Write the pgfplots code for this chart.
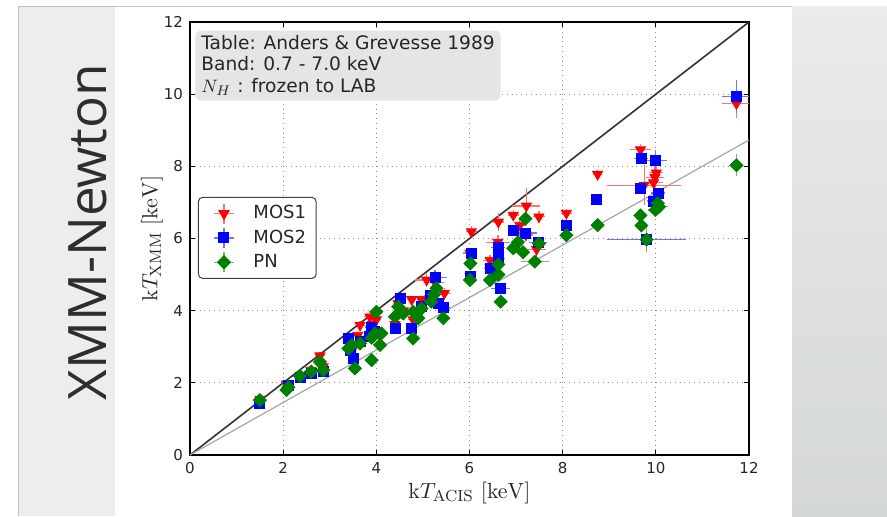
\documentclass[border=0pt]{standalone}
\usepackage{pgfplots}
\pgfplotsset{compat=1.18}
\usepackage{pgfplotstable}
\usepackage[no-math]{fontspec}
\setmainfont{DejaVu Sans}
\newfontfamily\slidefont{Open Sans}

\definecolor{mplred}{RGB}{255,0,0}
\definecolor{mplblue}{RGB}{0,0,255}
\definecolor{mplgreen}{RGB}{0,128,0}
\definecolor{panel}{RGB}{236,237,237}
\definecolor{boxgray}{RGB}{229,229,229}

% MOS1
\pgfplotstableread{
x y ex ey
1.50 1.55 0.10 0.10
2.07 1.97 0.10 0.08
2.38 2.20 0.08 0.08
2.60 2.35 0.08 0.08
2.79 2.75 0.10 0.10
2.86 2.45 0.10 0.10
3.40 3.25 0.10 0.10
3.48 2.90 0.10 0.10
3.65 3.60 0.10 0.12
3.60 3.32 0.10 0.10
3.86 3.83 0.12 0.15
3.92 3.62 0.12 0.12
4.00 3.75 0.10 0.10
3.97 3.45 0.10 0.10
4.08 3.30 0.10 0.10
4.40 3.62 0.10 0.10
4.47 4.20 0.12 0.12
4.58 4.00 0.10 0.10
4.76 4.31 0.10 0.10
4.97 4.31 0.10 0.10
4.79 3.75 0.10 0.10
5.08 4.85 0.25 0.20
5.18 4.40 0.15 0.15
5.26 4.78 0.20 0.20
5.46 4.48 0.15 0.15
5.33 4.20 0.15 0.15
6.01 4.95 0.10 0.10
6.04 6.19 0.12 0.15
6.01 5.60 0.15 0.15
6.44 5.40 0.15 0.15
6.44 5.20 0.12 0.12
6.62 6.46 0.12 0.25
6.61 5.90 0.25 0.20
6.94 6.65 0.12 0.15
7.08 6.37 0.15 0.15
7.22 6.90 0.30 0.50
7.49 6.60 0.12 0.15
7.44 5.70 0.20 0.20
7.21 6.10 0.15 0.15
8.08 6.70 0.12 0.12
8.75 7.78 0.10 0.12
9.67 8.46 0.22 0.15
9.75 7.48 0.80 0.55
9.98 7.70 0.20 0.30
10.01 7.82 0.15 0.20
9.95 7.55 0.20 0.30
11.73 9.74 0.30 0.40
}\mosone

% MOS2
\pgfplotstableread{
x y ex ey
1.50 1.43 0.10 0.08
2.11 1.94 0.10 0.08
2.36 2.15 0.08 0.08
2.60 2.25 0.08 0.08
2.86 2.33 0.10 0.08
3.40 3.22 0.12 0.10
3.50 2.68 0.10 0.10
3.45 2.90 0.10 0.10
3.65 3.15 0.10 0.10
3.90 3.55 0.15 0.12
3.86 3.28 0.10 0.10
3.95 3.42 0.12 0.10
4.40 3.51 0.10 0.10
4.51 4.34 0.12 0.12
4.76 3.51 0.10 0.10
4.97 4.11 0.12 0.12
5.15 4.43 0.12 0.12
5.26 4.92 0.25 0.20
5.33 4.20 0.15 0.12
5.44 4.08 0.15 0.12
6.01 4.94 0.10 0.10
6.04 5.59 0.12 0.12
6.44 5.17 0.12 0.12
6.62 5.75 0.15 0.15
6.62 5.45 0.15 0.15
6.66 4.62 0.20 0.15
6.94 6.23 0.12 0.12
7.20 6.15 0.25 0.15
7.47 5.88 0.20 0.15
8.08 6.37 0.10 0.10
8.72 7.09 0.10 0.10
9.69 8.22 0.15 0.15
9.99 8.16 0.25 0.30
9.67 7.39 0.12 0.15
10.05 7.26 0.15 0.15
9.95 7.04 0.15 0.15
9.80 5.97 0.85 0.35
11.73 9.94 0.30 0.45
}\mostwo

% PN
\pgfplotstableread{
x y ex ey
1.50 1.52 0.10 0.10
2.07 1.80 0.10 0.08
2.11 1.88 0.10 0.08
2.36 2.19 0.08 0.08
2.60 2.31 0.08 0.08
2.79 2.58 0.10 0.10
2.86 2.35 0.10 0.10
3.40 2.95 0.10 0.10
3.47 3.05 0.10 0.10
3.54 2.40 0.10 0.10
3.65 3.09 0.10 0.10
3.90 2.63 0.10 0.10
3.90 3.25 0.10 0.10
3.97 3.37 0.10 0.10
4.00 3.97 0.10 0.10
4.08 3.05 0.10 0.10
4.11 3.37 0.10 0.10
4.40 3.83 0.10 0.10
4.47 4.11 0.10 0.10
4.58 3.92 0.10 0.10
4.79 3.97 0.10 0.10
4.79 3.23 0.10 0.10
4.90 3.79 0.10 0.10
4.97 4.06 0.10 0.10
5.18 4.25 0.12 0.12
5.29 4.62 0.12 0.12
5.24 4.45 0.12 0.12
5.44 3.79 0.12 0.12
6.01 4.85 0.10 0.10
6.02 5.31 0.10 0.10
6.44 4.85 0.12 0.10
6.62 5.28 0.12 0.12
6.62 5.00 0.12 0.12
6.67 4.25 0.12 0.10
6.94 5.73 0.12 0.12
7.04 5.90 0.12 0.12
7.15 5.62 0.12 0.12
7.20 6.55 0.12 0.12
7.40 5.36 0.30 0.12
7.49 5.86 0.15 0.12
8.08 6.09 0.10 0.10
8.75 6.37 0.10 0.10
9.67 6.64 0.12 0.12
9.69 6.36 0.12 0.12
9.80 5.97 0.10 0.35
10.04 6.98 0.15 0.15
10.07 6.88 0.20 0.12
9.99 6.79 0.15 0.12
11.73 8.03 0.15 0.30
}\pn

% legend image: a mark with a small error cross, padded to the reference's width
\newcommand\legimg[2]{%
  \path (0pt,0pt) (22pt,0pt);
  \draw[#2, line width=0.6pt] (4.5pt,0pt) -- (14.5pt,0pt) (9.5pt,-5pt) -- (9.5pt,5pt);
  \draw[mark repeat=2, mark phase=2, #1] plot coordinates {(0pt,0pt) (9.5pt,0pt) (19pt,0pt)};%
}
\pgfplotsset{errleg/.style={legend image code/.code={\legimg{##1}{#1}}}}

\begin{document}
\begin{tikzpicture}[x=0.5pt,y=0.5pt]
  \path[use as bounding box] (0,0) rectangle (887,516);
  \fill[white] (0,0) rectangle (887,516);
  % slide decoration
  \fill[panel] (18,0) rectangle (115,509);
  \draw[black!25, line width=0.5pt] (18,0) -- (18,510) -- (887,510);
  \shade[top color={rgb,255:red,234;green,236;blue,235}, bottom color={rgb,255:red,211;green,215;blue,213}]
    (792,0) rectangle (887,509.7);
  \node[rotate=90, font=\slidefont\fontsize{26.5}{30}\selectfont, text=black!82] at (88,284) {XMM-Newton};

  \begin{axis}[
    at={(95pt,30.5pt)}, anchor=south west,
    scale only axis, width=279.5pt, height=216.5pt,
    xmin=0, xmax=12, ymin=0, ymax=12,
    xtick={0,2,...,12}, ytick={0,2,...,12},
    tick align=inside, major tick length=2.5pt,
    tick style={black, line width=0.5pt},
    axis line style={black, line width=0.75pt},
    grid=major,
    grid style={dotted, black!45, line width=0.5pt},
    /pgf/number format/assume math mode=true,
    tick label style={font=\fontsize{7.5}{9}\selectfont, text=black!85},
    label style={font=\fontsize{11}{13}\selectfont, text=black!85},
    xlabel={$\mathrm{k}T_{\mathrm{ACIS}}\ [\mathrm{keV}]$},
    ylabel={$\mathrm{k}T_{\mathrm{XMM}}\ [\mathrm{keV}]$},
    xlabel style={at={(axis description cs:0.5,-0.088)}, anchor=center},
    ylabel style={at={(axis description cs:-0.068,0.5)}, anchor=center},
    legend style={
      at={(axis description cs:0.0143,0.596)}, anchor=north west,
      draw=black!75, line width=0.5pt, rounded corners=2pt, fill=white,
      font=\fontsize{9}{11}\selectfont, text=black!85,
      row sep=0pt, inner xsep=3pt, inner ysep=2pt,
      /tikz/every odd column/.append style={column sep=0pt},
    },
    legend cell align=left,
  ]
    \addplot[black!80, line width=0.8pt, forget plot] coordinates {(0,0) (12,12)};
    \addplot[black!35, line width=0.6pt, forget plot] coordinates {(0,0) (12,8.73)};

    \addplot[only marks, color=mplred, mark=triangle*, mark size=2.9pt,
      mark options={rotate=180, fill=mplred, draw=mplred},
      errleg=mplred!55,
      error bars/.cd, x dir=both, x explicit, y dir=both, y explicit,
      error mark=none, error bar style={mplred!55, line width=0.6pt}]
      table[x=x, y=y, x error=ex, y error=ey] {\mosone};
    \addlegendentry{MOS1}

    \addplot[only marks, color=mplblue, mark=square*, mark size=2.5pt,
      mark options={fill=mplblue, draw=mplblue},
      errleg=mplblue!55,
      error bars/.cd, x dir=both, x explicit, y dir=both, y explicit,
      error mark=none, error bar style={mplblue!55, line width=0.6pt}]
      table[x=x, y=y, x error=ex, y error=ey] {\mostwo};
    \addlegendentry{MOS2}

    \addplot[only marks, color=mplgreen, mark=square*, mark size=2.3pt,
      mark options={rotate=45, fill=mplgreen, draw=mplgreen},
      errleg=mplgreen!55,
      error bars/.cd, x dir=both, x explicit, y dir=both, y explicit,
      error mark=none, error bar style={mplgreen!55, line width=0.6pt}]
      table[x=x, y=y, x error=ex, y error=ey] {\pn};
    \addlegendentry{PN}

    \node[anchor=north west, fill=boxgray, rounded corners=3pt, align=left,
      inner xsep=3pt, inner ysep=2.5pt, text=black!85,
      font=\fontsize{9.3}{10.6}\selectfont]
      at (axis description cs:0.009,0.981)
      {Table: Anders \& Grevesse 1989\\Band: 0.7 - 7.0 keV\\$N_H$ : frozen to LAB};
  \end{axis}
\end{tikzpicture}
\end{document}
